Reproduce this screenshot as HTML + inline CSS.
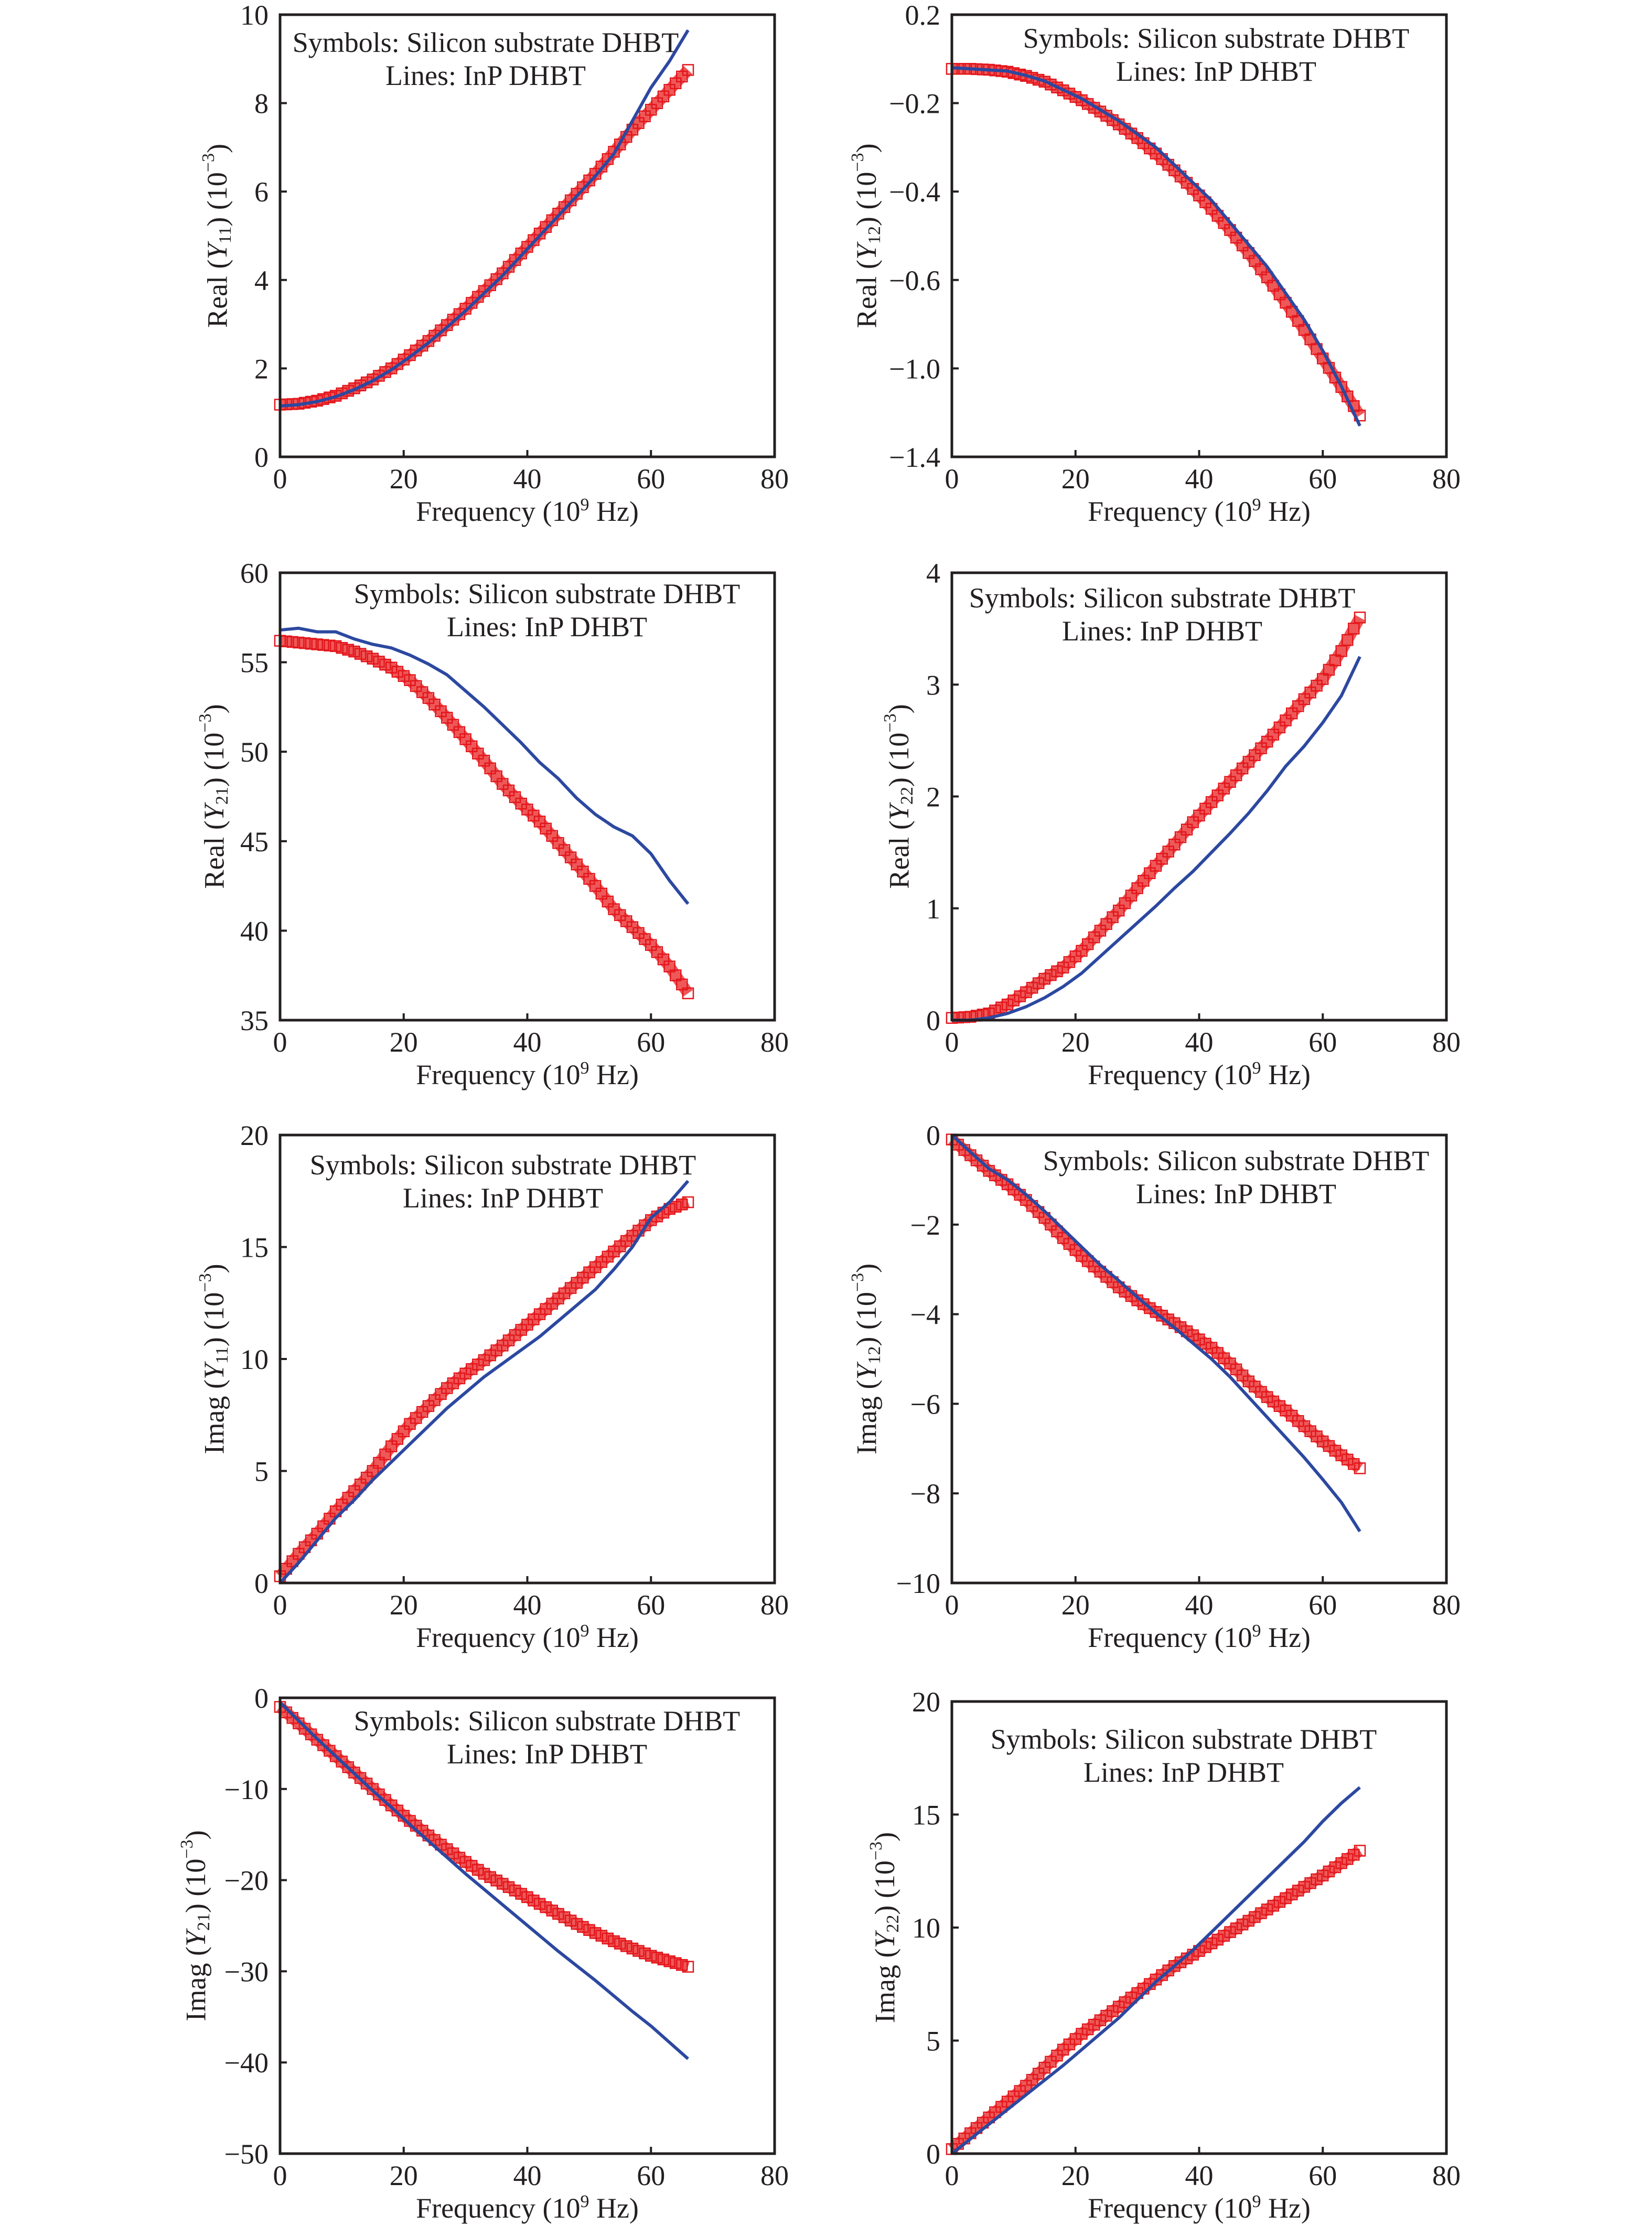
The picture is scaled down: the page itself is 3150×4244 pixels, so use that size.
<!DOCTYPE html>
<html><head><meta charset="utf-8"><style>
html,body{margin:0;padding:0;background:#fff;}
svg{display:block;font-family:"Liberation Serif","Times New Roman",serif;}
</style></head><body>
<svg id="fig" width="3150" height="4244" viewBox="0 0 3150 4244" xmlns="http://www.w3.org/2000/svg">
<rect x="0" y="0" width="3150" height="4244" fill="#fff"/>
</svg>
<script>
const freq = [0,3,6,9,12,15,18,21,24,27,30,33,36,39,42,45,48,51,54,57,60,63,66];
const xTicks = [0,20,40,60,80];

const reY11Si  = [1.18,1.2,1.27,1.38,1.55,1.75,2.0,2.3,2.62,2.98,3.35,3.75,4.15,4.6,5.05,5.5,5.95,6.4,6.9,7.4,7.85,8.3,8.75];
const reY11InP = [1.15,1.18,1.25,1.36,1.52,1.72,1.97,2.26,2.58,2.93,3.3,3.7,4.1,4.55,5.0,5.45,5.9,6.35,6.85,7.6,8.35,8.95,9.65];
const reY12Si  = [-0.045,-0.045,-0.049,-0.058,-0.077,-0.103,-0.142,-0.187,-0.219,-0.248,-0.279,-0.314,-0.352,-0.394,-0.439,-0.487,-0.539,-0.594,-0.703,-0.826,-0.955,-1.084,-1.213];
const reY12InP = [-0.04,-0.045,-0.05,-0.055,-0.075,-0.1,-0.14,-0.18,-0.215,-0.24,-0.27,-0.3,-0.34,-0.38,-0.42,-0.47,-0.52,-0.57,-0.66,-0.78,-0.92,-1.08,-1.26];
const reY21Si  = [56.2,56.1,56.0,55.9,55.6,55.2,54.7,54.0,53.0,51.9,50.7,49.5,48.2,47.1,46.1,44.9,43.7,42.5,41.2,40.2,39.2,38.0,36.5];
const reY21InP = [56.8,56.9,56.7,56.7,56.3,56.0,55.8,55.4,54.9,54.3,53.4,52.5,51.5,50.5,49.4,48.5,47.4,46.5,45.8,45.3,44.3,42.8,41.5];
const reY22Si  = [0.02,0.03,0.06,0.14,0.25,0.37,0.47,0.62,0.8,0.98,1.18,1.38,1.57,1.77,1.95,2.13,2.31,2.49,2.68,2.87,3.05,3.3,3.6];
const reY22InP = [0.0,0.0,0.02,0.06,0.12,0.2,0.3,0.42,0.57,0.72,0.87,1.02,1.18,1.33,1.5,1.67,1.85,2.05,2.27,2.45,2.66,2.9,3.25];
const imY11Si  = [0.3,1.3,2.2,3.2,4.1,5.0,6.1,7.1,7.9,8.7,9.35,9.95,10.6,11.3,12.0,12.7,13.4,14.1,14.8,15.5,16.2,16.7,17.0];
const imY11InP = [0,0.9,1.9,2.9,3.7,4.6,5.4,6.2,7.0,7.8,8.5,9.2,9.8,10.4,11.0,11.7,12.4,13.1,14.0,15.0,16.3,17.0,17.95];
const imY12Si  = [-0.1,-0.45,-0.8,-1.1,-1.45,-1.85,-2.3,-2.7,-3.05,-3.4,-3.69,-3.95,-4.2,-4.47,-4.75,-5.1,-5.5,-5.85,-6.15,-6.5,-6.84,-7.15,-7.44];
const imY12InP = [0,-0.38,-0.75,-1.0,-1.33,-1.7,-2.1,-2.5,-2.9,-3.25,-3.62,-3.97,-4.3,-4.65,-5.0,-5.4,-5.85,-6.3,-6.75,-7.2,-7.69,-8.2,-8.85];
const imY21Si  = [-1,-2.8,-4.6,-6.4,-8.2,-10.0,-11.8,-13.5,-15.1,-16.6,-18.0,-19.3,-20.4,-21.5,-22.6,-23.7,-24.8,-25.8,-26.7,-27.5,-28.3,-28.9,-29.5];
const imY21InP = [-0.5,-2.5,-4.5,-6.4,-8.3,-10.2,-12.0,-13.9,-15.7,-17.5,-19.3,-21.0,-22.7,-24.4,-26.1,-27.8,-29.4,-31.0,-32.7,-34.4,-36.0,-37.8,-39.6];
const imY22Si  = [0.2,0.9,1.6,2.3,3.0,3.8,4.6,5.3,5.9,6.5,7.1,7.7,8.3,8.8,9.3,9.8,10.3,10.8,11.3,11.8,12.3,12.85,13.4];
const imY22InP = [0,0.65,1.3,1.95,2.6,3.25,3.9,4.6,5.3,6.0,6.8,7.6,8.3,9.0,9.8,10.6,11.4,12.2,13.0,13.8,14.7,15.5,16.2];

const yTicks1 = [0,2,4,6,8,10];
const yTicks2 = [-1.4,-1.0,-0.6,-0.4,-0.2,0.2];
const yTicks3 = [35,40,45,50,55,60];
const yTicks4 = [0,1,2,3,4];
const yTicks5 = [0,5,10,15,20];
const yTicks6 = [-10,-8,-6,-4,-2,0];
const yTicks7 = [-50,-40,-30,-20,-10,0];
const yTicks8 = [0,5,10,15,20];

const NS = "http://www.w3.org/2000/svg";
const svg = document.getElementById('fig');
function mk(tag, attrs, parent){
  const e = document.createElementNS(NS, tag);
  for (const k in attrs) e.setAttribute(k, attrs[k]);
  (parent||svg).appendChild(e);
  return e;
}
function fmt(v){ return (v<0?'\u2212':'') + String(Math.abs(v)); }

const panels = [
 {id:'real-y11', kind:'Real', sub:'11', x0:534, x1:1477, y0:28, y1:871, ticks:yTicks1, si:reY11Si, inp:reY11InP, tx:420, nx:926, ny:81},
 {id:'real-y12', kind:'Real', sub:'12', x0:1815, x1:2758, y0:28, y1:871, ticks:yTicks2, si:reY12Si, inp:reY12InP, tx:1658, nx:2319, ny:73, labels:['\u22121.4','\u22121.0','\u22120.6','\u22120.4','\u22120.2','0.2']},
 {id:'real-y21', kind:'Real', sub:'21', x0:534, x1:1477, y0:1092, y1:1945, ticks:yTicks3, si:reY21Si, inp:reY21InP, tx:414, nx:1043, ny:1132},
 {id:'real-y22', kind:'Real', sub:'22', x0:1815, x1:2758, y0:1092, y1:1945, ticks:yTicks4, si:reY22Si, inp:reY22InP, tx:1720, nx:2216, ny:1140},
 {id:'imag-y11', kind:'Imag', sub:'11', x0:534, x1:1477, y0:2164, y1:3018, ticks:yTicks5, si:imY11Si, inp:imY11InP, tx:414, nx:959, ny:2221},
 {id:'imag-y12', kind:'Imag', sub:'12', x0:1815, x1:2758, y0:2164, y1:3018, ticks:yTicks6, si:imY12Si, inp:imY12InP, tx:1658, nx:2357, ny:2213},
 {id:'imag-y21', kind:'Imag', sub:'21', x0:534, x1:1477, y0:3237, y1:4106, ticks:yTicks7, si:imY21Si, inp:imY21InP, tx:379, nx:1043, ny:3281},
 {id:'imag-y22', kind:'Imag', sub:'22', x0:1815, x1:2758, y0:3244, y1:4106, ticks:yTicks8, si:imY22Si, inp:imY22InP, tx:1693, nx:2257, ny:3316}
];

panels.forEach(p => {
  const g = mk('g', {});
  
  
  const xs = f => p.x0 + (f - xTicks[0]) / (xTicks[xTicks.length-1] - xTicks[0]) * (p.x1 - p.x0);
  const n = p.ticks.length - 1;
  const ys = v => {
    const t = p.ticks;
    let i = 0;
    while (i < n - 1 && v > t[i+1]) i++;
    const frac = (v - t[i]) / (t[i+1] - t[i]);
    return p.y1 - (i + frac) / n * (p.y1 - p.y0);
  };
  const band = mk('polyline', {fill:'none', stroke:'#e82020', 'stroke-width':22, 'stroke-opacity':0.75, 'stroke-linejoin':'round',
    points: freq.map((f,i)=>xs(f)+','+ys(p.si[i])).join(' ')}, g);
  
  
  const sq = mk('g', {fill:'none', stroke:'#e3161c', 'stroke-width':2.5}, g);
  
  
  for (let i=0;i<freq.length;i++){
    const cx = xs(freq[i]), cy = ys(p.si[i]);
    const r = mk('rect', {x:cx-10, y:cy-10, width:20, height:20}, sq);
    
    
    if (i < freq.length-1){
      const nx = xs(freq[i+1]), ny = ys(p.si[i+1]);
      for (const k of [0.33, 0.67]) {
        const r2 = mk('rect', {x:cx+(nx-cx)*k-10, y:cy+(ny-cy)*k-10, width:20, height:20}, sq);
        
        
      }
    }
  }
  const line = mk('polyline', {fill:'none', stroke:'#2c48a0', 'stroke-width':6, 'stroke-linejoin':'round',
    points: freq.map((f,i)=>xs(f)+','+ys(p.inp[i])).join(' ')}, g);
  
  
  const fr = mk('rect', {x:p.x0, y:p.y0, width:p.x1-p.x0, height:p.y1-p.y0, fill:'none', stroke:'#231f20', 'stroke-width':5}, g);
  
  
  xTicks.forEach(v => {
    const x = xs(v);
    if (v!==xTicks[0] && v!==xTicks[xTicks.length-1]) mk('line', {x1:x, y1:p.y1, x2:x, y2:p.y1-13, stroke:'#231f20', 'stroke-width':4}, g);
    const t = mk('text', {x:x, y:p.y1+60, 'font-size':54, 'text-anchor':'middle', fill:'#231f20'}, g);
    t.textContent = String(v);
    
    
  });
  p.ticks.forEach((v,i) => {
    const y = p.y1 - i / n * (p.y1 - p.y0);
    if (i>0 && i<n) mk('line', {x1:p.x0, y1:y, x2:p.x0+13, y2:y, stroke:'#231f20', 'stroke-width':4}, g);
    const t = mk('text', {x:p.x0-22, y:y+19, 'font-size':54, 'text-anchor':'end', fill:'#231f20'}, g);
    t.textContent = p.labels ? p.labels[i] : fmt(v);
    
    
  });
  const xt = mk('text', {x:(p.x0+p.x1)/2, y:p.y1+122, 'font-size':54, 'text-anchor':'middle', fill:'#231f20'}, g);
  
  
  xt.innerHTML = 'Frequency (10<tspan dy="-20" font-size="34">9</tspan><tspan dy="20"> Hz)</tspan>';
  const cy = (p.y0+p.y1)/2;
  const yt = mk('text', {x:p.tx, y:cy, 'font-size':54, 'text-anchor':'middle', fill:'#231f20', transform:'rotate(-90 '+p.tx+' '+cy+')', 'dominant-baseline':'middle'}, g);
  
  
  yt.innerHTML = p.kind + ' (<tspan font-style="italic">Y</tspan><tspan dy="12" font-size="34">' + p.sub + '</tspan><tspan dy="-12">) (10</tspan><tspan dy="-20" font-size="34">\u22123</tspan><tspan dy="20">)</tspan>';
  const a1 = mk('text', {x:p.nx, y:p.ny+18, 'font-size':54, 'text-anchor':'middle', fill:'#231f20'}, g);
  a1.textContent = 'Symbols: Silicon substrate DHBT';
  
  
  const a2 = mk('text', {x:p.nx, y:p.ny+81, 'font-size':54, 'text-anchor':'middle', fill:'#231f20'}, g);
  a2.textContent = 'Lines: InP DHBT';
  
  
});
</script>
</body></html>
